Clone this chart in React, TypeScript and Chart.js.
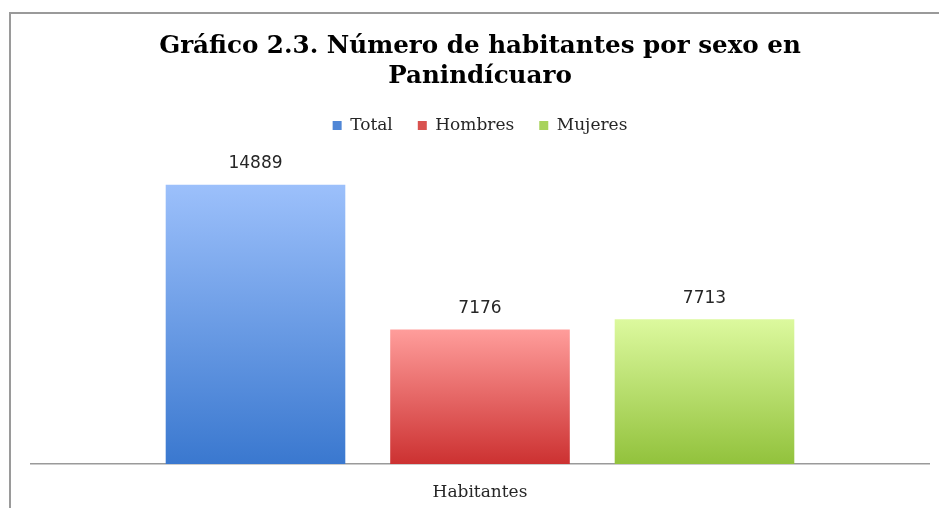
import React, { useEffect, useRef } from "react";
import { Chart, registerables } from "chart.js";

Chart.register(...registerables);

const categories = ["Habitantes"];
const seriesNames = ["Total", "Hombres", "Mujeres"];
const totalValues = [14889];
const hombresValues = [7176];
const mujeresValues = [7713];
const titleLines = ["Gráfico 2.3. Número de habitantes por sexo en", "Panindícuaro"];
const yMax = 17060;

const gradTop = ["#9cc0fb", "#ff9d9b", "#dcf99e"];
const gradBottom = ["#3a78cf", "#cc3131", "#92c23c"];
const legendColors = ["#4f86d6", "#d9524f", "#a8d35c"];

function barGradient(i: number) {
  return (ctx: any) => {
    const chart = ctx.chart;
    const { chartArea, scales } = chart;
    if (!chartArea || ctx.type !== "data" || !scales || !scales.y) return gradBottom[i];
    const y = scales.y;
    const yTop = y.getPixelForValue(ctx.raw);
    const yBase = y.getPixelForValue(0);
    if (!isFinite(yTop) || !isFinite(yBase) || yTop === yBase) return gradBottom[i];
    const g = chart.ctx.createLinearGradient(0, yTop, 0, yBase);
    g.addColorStop(0, gradTop[i]);
    g.addColorStop(1, gradBottom[i]);
    return g;
  };
}

const valueLabels = {
  id: "valueLabels",
  afterDatasetsDraw(chart: any) {
    const c = chart.ctx;
    c.save();
    c.font = "17px 'DejaVu Sans'";
    c.fillStyle = "#262626";
    c.textAlign = "center";
    c.textBaseline = "middle";
    chart.data.datasets.forEach((ds: any, di: number) => {
      const meta = chart.getDatasetMeta(di);
      meta.data.forEach((bar: any, idx: number) => {
        c.fillText(String(ds.data[idx]), bar.x, bar.y - 21);
      });
    });
    c.restore();
  },
};

export default function App() {
  const ref = useRef<HTMLCanvasElement>(null);
  useEffect(() => {
    if (!ref.current) return;
    const seriesData = [totalValues, hombresValues, mujeresValues];
    const chart = new Chart(ref.current, {
      type: "bar",
      data: {
        labels: categories,
        datasets: seriesNames.map((name, i) => ({
          label: name,
          data: seriesData[i],
          backgroundColor: barGradient(i),
          borderWidth: 0,
          categoryPercentage: 0.75,
          barPercentage: 0.8,
        })),
      },
      options: {
        animation: false,
        responsive: false,
        maintainAspectRatio: false,
        layout: { padding: { left: 31, right: 10, top: 0, bottom: 0 } },
        plugins: {
          title: {
            display: true,
            text: titleLines,
            color: "#000000",
            font: { family: "'DejaVu Serif'", size: 24.6, weight: "bold", lineHeight: 1.22 },
            padding: { top: 32, bottom: 0 },
          },
          legend: {
            display: true,
            position: "top",
            labels: {
              font: { family: "'DejaVu Serif'", size: 17 },
              color: "#262626",
              boxWidth: 9,
              boxHeight: 9,
              padding: 25,
              generateLabels: () =>
                seriesNames.map((name, i) => ({
                  text: name,
                  fillStyle: legendColors[i],
                  strokeStyle: legendColors[i],
                  lineWidth: 0,
                  hidden: false,
                  datasetIndex: i,
                  fontColor: "#262626",
                })),
            },
          },
          tooltip: { enabled: false },
        },
        scales: {
          x: {
            grid: { display: false, drawTicks: false },
            border: { display: true, color: "#9a9a9a", width: 1.5 },
            ticks: {
              font: { family: "'DejaVu Serif'", size: 17 },
              color: "#262626",
              padding: 18,
            },
            afterFit: (s: any) => {
              s.height = 44;
            },
          },
          y: {
            display: false,
            min: 0,
            max: yMax,
          },
        },
      },
      plugins: [valueLabels],
    });
    return () => chart.destroy();
  }, []);

  return (
    <div style={{ position: "fixed", left: 0, top: 0, width: 939, height: 508, overflow: "hidden", background: "#ffffff" }}>
      <div
        style={{
          position: "absolute",
          left: 9,
          top: 12,
          width: 1200,
          height: 1200,
          borderLeft: "2px solid #9a9a9a",
          borderTop: "2px solid #9a9a9a",
          boxSizing: "border-box",
        }}
      />
      <canvas ref={ref} width={939} height={508} style={{ position: "absolute", left: 0, top: 0, width: 939, height: 508 }} />
    </div>
  );
}
